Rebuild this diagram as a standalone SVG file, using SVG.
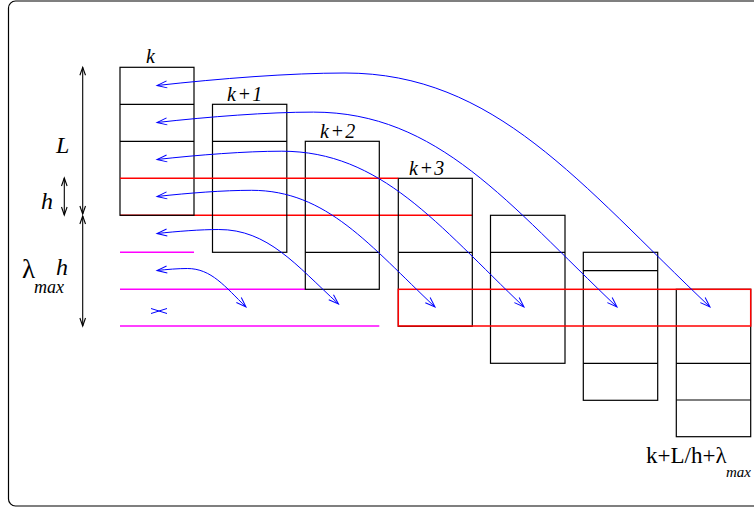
<svg xmlns="http://www.w3.org/2000/svg" width="754" height="508" viewBox="0 0 754 508">
<style>
.box{fill:none;stroke:#000;stroke-width:1.2}
.div{stroke:#000;stroke-width:1.2}
.red{stroke:#f00;stroke-width:1.5;fill:none}
.mag{stroke:#f0f;stroke-width:1.5}
.arr{fill:none;stroke:#00f;stroke-width:1;marker-start:url(#bh);marker-end:url(#bh)}
.dim{stroke:#000;stroke-width:1.1;marker-start:url(#kh);marker-end:url(#kh)}
.lab{font-family:"Liberation Serif",serif;font-style:italic;fill:#000}
.up{font-family:"Liberation Serif",serif;fill:#000}
</style>
<defs>
<marker id="bh" markerUnits="userSpaceOnUse" orient="auto-start-reverse" overflow="visible" refX="0" refY="0" markerWidth="12" markerHeight="8">
<path d="M-10,-3.5 L0,0 L-10,3.5" fill="none" stroke="#00f" stroke-width="1"/>
</marker>
<marker id="kh" markerUnits="userSpaceOnUse" orient="auto-start-reverse" overflow="visible" refX="0" refY="0" markerWidth="10" markerHeight="8">
<path d="M-8,-2.8 L0,0 L-8,2.8" fill="none" stroke="#000" stroke-width="1.1"/>
</marker>
</defs>
<rect x="8.5" y="1" width="770" height="505" rx="7" fill="#fff" stroke="#000" stroke-width="1.2"/>

<g id="guides">
<line class="red" x1="120" y1="215.3" x2="472.3" y2="215.3"/>
<line class="mag" x1="120" y1="252.3" x2="194" y2="252.3"/>
<line class="mag" x1="120" y1="289.3" x2="305.3" y2="289.3"/>
<line class="mag" x1="120" y1="326" x2="379.3" y2="326"/>
</g>

<g id="col-k">
<rect class="box" x="120" y="67.3" width="74" height="148"/>
<line class="div" x1="120" y1="104.3" x2="194" y2="104.3"/>
<line class="div" x1="120" y1="141.3" x2="194" y2="141.3"/>
</g>
<g id="col-k1">
<rect class="box" x="212.5" y="104.3" width="74.3" height="148"/>
<line class="div" x1="212.5" y1="141.3" x2="286.8" y2="141.3"/>
</g>
<g id="col-k2">
<rect class="box" x="305.3" y="141.3" width="74" height="148"/>
<line class="div" x1="305.3" y1="252.3" x2="379.3" y2="252.3"/>
</g>
<g id="col-k3">
<rect class="box" x="398.3" y="178.3" width="74" height="148"/>
<line class="div" x1="398.3" y1="252.3" x2="472.3" y2="252.3"/>
</g>
<g id="col-5">
<rect class="box" x="490.5" y="215.3" width="74.5" height="148"/>
<line class="div" x1="490.5" y1="252.3" x2="565" y2="252.3"/>
</g>
<g id="col-6">
<rect class="box" x="583.3" y="252.3" width="74.4" height="148"/>
<line class="div" x1="583.3" y1="270.7" x2="657.7" y2="270.7"/>
<line class="div" x1="583.3" y1="363.3" x2="657.7" y2="363.3"/>
</g>
<g id="col-7">
<rect class="box" x="676.3" y="289.3" width="74.4" height="147.4"/>
<line class="div" x1="676.3" y1="363.3" x2="750.7" y2="363.3"/>
<line class="div" x1="676.3" y1="400" x2="750.7" y2="400"/>
</g>

<g id="highlight">
<line class="red" x1="120" y1="178.3" x2="398.3" y2="178.3"/>
<rect class="red" x="398.3" y="289.3" width="352.4" height="36.7"/>
</g>

<g id="connectors">
<path class="arr" d="M157,85.5 C220,78.5 290,73 345,73 C494.9,73 580,183.8 710,307"/>
<path class="arr" d="M157,122.5 C209.4,116.7 267.6,112.1 313.4,112.1 C438.1,112.1 508.9,204.4 617,307"/>
<path class="arr" d="M157,159.5 C198.8,154.9 245.3,151.2 281.8,151.2 C381.2,151.2 437.8,224.9 524,307"/>
<path class="arr" d="M157,196.5 C188.7,193 223.9,190.3 251.5,190.3 C326.9,190.3 369.7,245.5 435,307"/>
<path class="arr" d="M157,233.5 C177.7,231.3 200.7,229.5 218.7,229.5 C267.9,229.5 295.8,264.8 338.5,304"/>
<path class="arr" d="M157,270.5 C167.1,269.4 178.4,268.5 187.3,268.5 C211.4,268.5 225.1,286.7 246,307"/>
<path d="M151,308.5 L167,313.5 M151,313.5 L167,308.5" fill="none" stroke="#00f" stroke-width="1"/>
<line class="dim" x1="82.7" y1="67.3" x2="82.7" y2="214"/>
<line class="dim" x1="82.7" y1="216" x2="82.7" y2="326"/>
<line class="dim" x1="64.3" y1="178" x2="64.3" y2="215"/>
</g>

<g id="labels">
<text class="lab" x="146" y="63" font-size="20">k</text>
<text class="lab" x="227" y="101" font-size="20" letter-spacing="1.5">k+1</text>
<text class="lab" x="320" y="138" font-size="20" letter-spacing="1.5">k+2</text>
<text class="lab" x="409" y="174.5" font-size="20" letter-spacing="1.5">k+3</text>
<text class="lab" x="56" y="153" font-size="24">L</text>
<text class="lab" x="41" y="208.5" font-size="24">h</text>
<text class="up" x="22" y="278" font-size="27">λ</text>
<text class="lab" x="56" y="275" font-size="24">h</text>
<text class="lab" x="34" y="293" font-size="18">max</text>
<text class="up" x="646" y="463" font-size="23">k+L/h+λ</text>
<text class="lab" x="726" y="476.5" font-size="15">max</text>
</g>
</svg>
